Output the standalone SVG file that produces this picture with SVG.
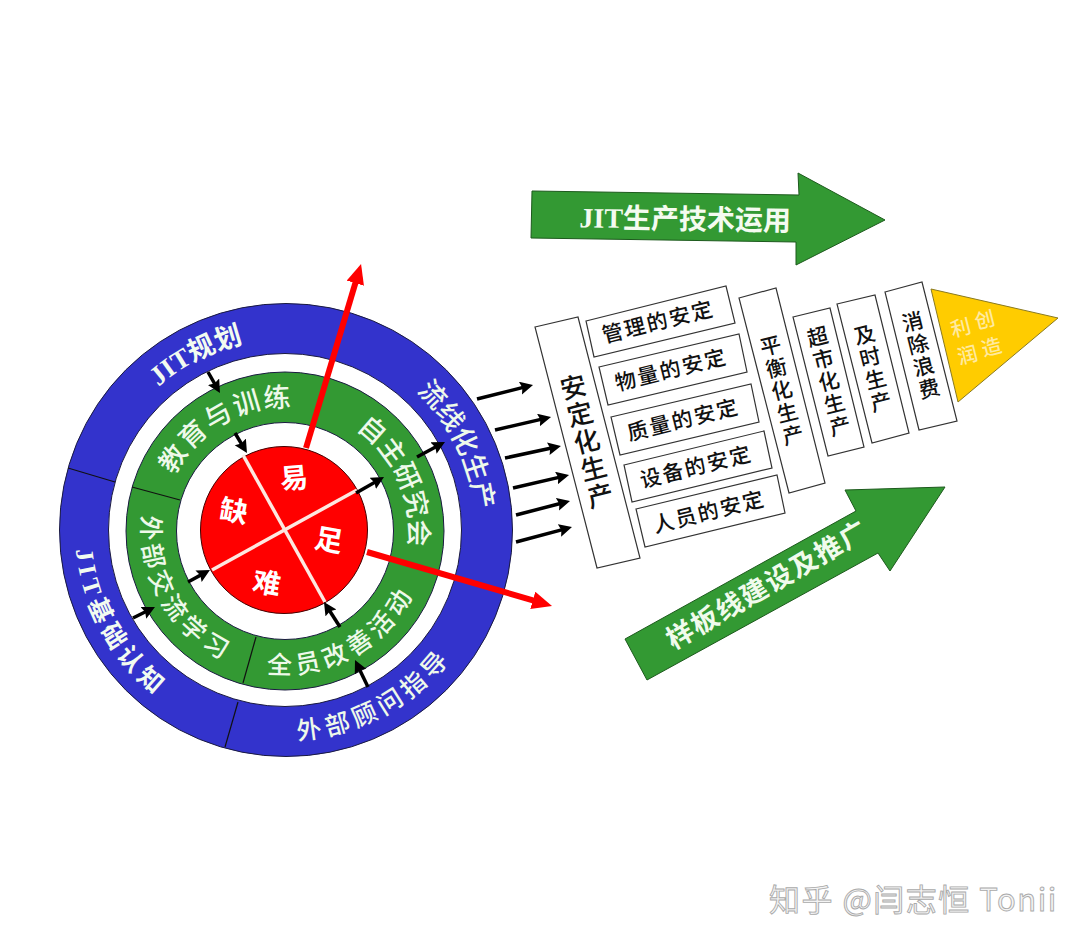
<svg xmlns="http://www.w3.org/2000/svg" width="1080" height="943" viewBox="0 0 1080 943">
<style>
text{font-family:"Liberation Serif","Noto Sans CJK SC",serif}
.ring{stroke:#1a1a40;stroke-width:1}
.div{stroke:#111;stroke-width:1.2}
.wt{fill:#f2fbf0;font-size:27px;font-weight:700}
.wg{fill:#eef9ea;font-size:27px;font-weight:500}
.low{font-size:25px}
.box{fill:#fff;stroke:#333;stroke-width:1.2}
.bt{fill:#111;font-size:21px;font-weight:500;text-anchor:middle;letter-spacing:2px;font-family:"Noto Sans CJK SC",sans-serif}
.v{writing-mode:vertical-rl;text-orientation:upright}
.arr{fill:#339933;stroke:#1d5a1d;stroke-width:1}
.ct{fill:#fff;font-size:28px;font-weight:700;text-anchor:middle;font-family:"Noto Sans CJK SC",sans-serif}
.blk{stroke:#000;stroke-width:3.5;fill:none;marker-end:url(#bh)}
.red{stroke:#f00;stroke-width:6;fill:none;marker-end:url(#rh)}
</style>
<defs>
<marker id="bh" markerUnits="userSpaceOnUse" markerWidth="14" markerHeight="14" refX="7" refY="6.5" orient="auto"><path d="M0 0L13 6.5L0 13L2 6.5Z" fill="#000"/></marker>
<marker id="rh" markerUnits="userSpaceOnUse" markerWidth="22" markerHeight="20" refX="10" refY="9" orient="auto"><path d="M0 0L20 9L0 18Z" fill="#f00"/></marker>
<path id="cwO" d="M285 339A191 191 0 1 1 285 721A191 191 0 1 1 285 339"/>
<path id="ccwO" d="M285 320A210 210 0 1 0 285 740A210 210 0 1 0 285 320"/>
<path id="cwG" d="M285 407A124 124 0 1 1 285 655A124 124 0 1 1 285 407"/>
<path id="ccwG" d="M285 388A143 143 0 1 0 285 674A143 143 0 1 0 285 388"/>
</defs>
<rect width="1080" height="943" fill="#fff"/>
<g id="rings">
<circle class="ring" cx="286" cy="530" r="226.5" fill="#3333cc"/>
<circle class="ring" cx="285" cy="530" r="176.5" fill="#fff"/>
<circle class="ring" cx="285" cy="531" r="159" fill="#339933"/>
<circle class="ring" cx="285" cy="531" r="108.5" fill="#fff"/>
</g>
<g id="outer-jit-plan"><text class="wt"><textPath href="#cwO" startOffset="92.5%" text-anchor="middle">JIT规划</textPath></text></g>
<g id="outer-flow"><text class="wg"><textPath href="#cwO" startOffset="17.7%" text-anchor="middle">流线化生产</textPath></text></g>
<g id="outer-consultant"><text class="wg low"><textPath href="#ccwO" startOffset="57.8%" text-anchor="middle" letter-spacing="5">外部顾问指导</textPath></text><line class="div" x1="238" y1="702" x2="225" y2="747"/></g>
<g id="outer-basics"><text class="wt low"><textPath href="#ccwO" startOffset="33.1%" text-anchor="middle" letter-spacing="5">JIT基础认知</textPath></text><line class="div" x1="68" y1="468" x2="115" y2="482"/></g>
<g id="green-training"><text class="wg"><textPath href="#cwG" startOffset="91.7%" text-anchor="middle" letter-spacing="2">教育与训练</textPath></text></g>
<g id="green-study"><text class="wg"><textPath href="#cwG" startOffset="18.3%" text-anchor="middle">自主研究会</textPath></text></g>
<g id="green-improve"><text class="wg low"><textPath href="#ccwG" startOffset="58%" text-anchor="middle" letter-spacing="5">全员改善活动</textPath></text><line class="div" x1="256" y1="637" x2="243" y2="683"/></g>
<g id="green-exchange"><text class="wg low"><textPath href="#ccwG" startOffset="33.3%" text-anchor="middle" letter-spacing="5">外部交流学习</textPath></text><line class="div" x1="132" y1="487" x2="180" y2="500"/></g>
<g id="core">
<circle cx="284" cy="530" r="83.5" fill="#f00" stroke="#400" stroke-width="1"/>
<line x1="243" y1="455" x2="325" y2="602" stroke="#fde8e0" stroke-width="3.5"/>
<line x1="212" y1="570" x2="357" y2="490" stroke="#fde8e0" stroke-width="3.5"/>
<text class="ct" transform="translate(295 488) rotate(-5)">易</text>
<text class="ct" transform="translate(232 521) rotate(10)">缺</text>
<text class="ct" transform="translate(327 550) rotate(10)">足</text>
<text class="ct" transform="translate(265 593) rotate(10)">难</text>
</g>
<g id="connectors">
<path class="red" d="M306 448L358.2 273.6"/>
<path class="red" d="M367 552L542.4 603.2"/>
<path class="blk" d="M208 372L217 387.8"/>
<path class="blk" d="M235 433L243.9 447.9"/>
<path class="blk" d="M417 457L439.7 444.8"/>
<path class="blk" d="M356 493L378.8 480"/>
<path class="blk" d="M188 582L204.7 572.9"/>
<path class="blk" d="M133 618L149.6 609.7"/>
<path class="blk" d="M340 627L327.2 607"/>
<path class="blk" d="M368 687L357.6 665.4"/>
<path class="blk" d="M477 399L527.2 386.4"/>
<path class="blk" d="M495 430L545.2 418.4"/>
<path class="blk" d="M505 458L555.1 447.3"/>
<path class="blk" d="M513 488L563.2 476.4"/>
<path class="blk" d="M516 515L564.2 502.5"/>
<path class="blk" d="M516 542L566.2 528.6"/>
</g>
<g id="tech-arrow"><polygon class="arr" points="532,191 799,195 798,173 885,220 796,265 796,242 531,238"/>
<text transform="translate(685 229) rotate(1)" text-anchor="middle" fill="#f4fbf0" font-size="28" font-weight="700">JIT生产技术运用</text></g>
<g id="model-arrow"><polygon class="arr" points="625,639 856,511 845,490 945,487 890,571 878,553 647,680"/>
<text transform="translate(772 593) rotate(-30)" text-anchor="middle" fill="#f0fbec" font-size="27" font-weight="700" letter-spacing="1.5" style="font-family:'Noto Sans CJK SC',sans-serif">样板线建设及推广</text></g>
<g id="stable"><polygon class="box" points="535,327 578,317 640,558 597,568"/><text class="bt v" style="font-size:26px;letter-spacing:2px" x="587" y="442" transform="rotate(-14 587 442)">安定化生产</text></g>
<g id="s-mgmt"><polygon class="box" points="586,321 726,286 735,323 594,357"/><text class="bt" transform="translate(660 329) rotate(-14)">管理的安定</text></g>
<g id="s-qty"><polygon class="box" points="599,367 739,334 747,372 608,405"/><text class="bt" transform="translate(673 377) rotate(-14)">物量的安定</text></g>
<g id="s-qual"><polygon class="box" points="611,417 751,384 759,422 620,455"/><text class="bt" transform="translate(685 427) rotate(-14)">质量的安定</text></g>
<g id="s-equip"><polygon class="box" points="624,465 764,431 772,468 632,502"/><text class="bt" transform="translate(698 474) rotate(-14)">设备的安定</text></g>
<g id="s-people"><polygon class="box" points="636,509 777,475 785,513 645,547"/><text class="bt" transform="translate(711 519) rotate(-14)">人员的安定</text></g>
<g id="balance"><polygon class="box" points="739,298 776,288 825,483 789,493"/><text class="bt v" x="782" y="391" transform="rotate(-14 782 391)">平衡化生产</text></g>
<g id="supermarket"><polygon class="box" points="793,317 830,308 864,447 828,456"/><text class="bt v" x="829" y="382" transform="rotate(-14 829 382)">超市化生产</text></g>
<g id="jit"><polygon class="box" points="837,304 875,295 909,433 872,443"/><text class="bt v" x="873" y="369" transform="rotate(-14 873 369)">及时生产</text></g>
<g id="waste"><polygon class="box" points="885,292 922,282 957,421 919,430"/><text class="bt v" x="921" y="356" transform="rotate(-14 921 356)">消除浪费</text></g>
<g id="profit"><polygon points="931,289 1058,318 958,402" fill="#ffcc00" stroke="#8a7a20" stroke-width="1"/>
<text class="bt v" style="fill:#ffeaa0;font-size:20px;letter-spacing:8px" x="989" y="337" transform="rotate(-14 989 337)">创造</text>
<text class="bt v" style="fill:#ffeaa0;font-size:20px;letter-spacing:8px" x="965" y="345" transform="rotate(-14 965 345)">利润</text></g>
<text x="769" y="911" font-size="31" letter-spacing="1.5" fill="#f4f4f4" stroke="#aaa" stroke-width="0.9" style="font-family:'Noto Sans CJK SC',sans-serif">知乎 @闫志恒 Tonii</text>
</svg>
